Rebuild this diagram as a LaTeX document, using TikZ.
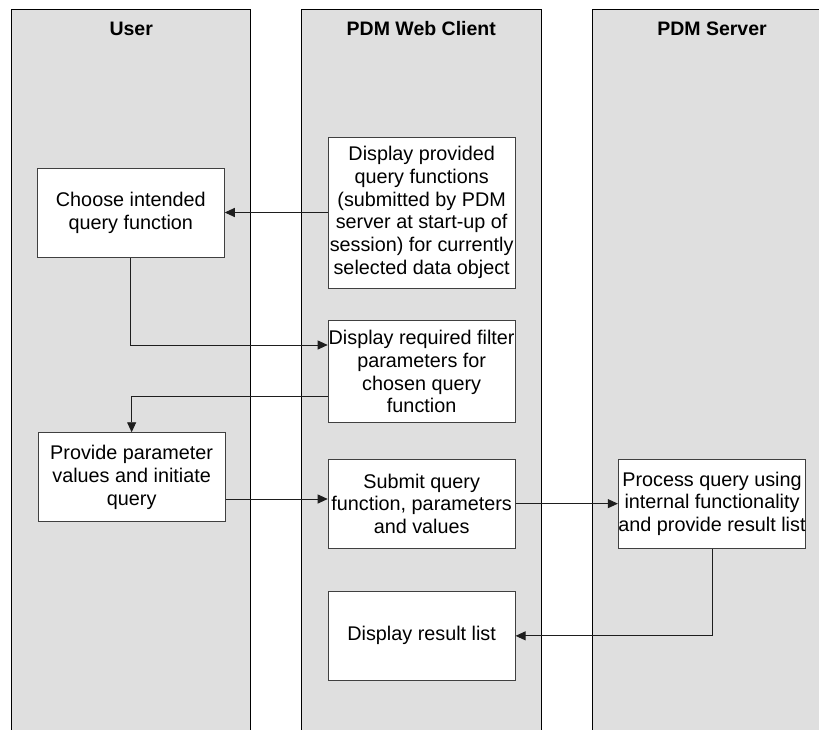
\documentclass[tikz,border=0pt]{standalone}
\usepackage{fontspec}
\setmainfont{Liberation Sans}
\usetikzlibrary{arrows.meta,calc}
\definecolor{lanefill}{RGB}{223,223,223}
\definecolor{boxline}{RGB}{64,64,64}
\definecolor{wireline}{RGB}{30,30,30}
\begin{document}
\begin{tikzpicture}[x=1pt,y=-1pt,
  every node/.style={font=\fontsize{19.8}{22.7}\selectfont},
  lanehead/.style={font=\fontsize{19.5}{22}\selectfont\bfseries},
  lanefr/.style={draw=black,line width=1pt},
  stepbox/.style={draw=boxline,fill=white,line width=0.9pt,inner sep=0pt,
    minimum width=187pt,align=center,anchor=center},
  flow/.style={draw=wireline,line width=0.9pt,
    -{Triangle[length=10pt,width=9pt]}}]
\useasboundingbox (0,0) rectangle (819,730);

% swimlanes (open at the bottom)
\fill[lanefill] (11.7,10) rectangle (250.7,735);
\fill[lanefill] (301.7,10) rectangle (541,735);
\fill[lanefill] (592.3,10) rectangle (832,735);
\draw[lanefr] (11.7,735) -- (11.7,10) -- (250.7,10) -- (250.7,735);
\draw[lanefr] (301.7,735) -- (301.7,10) -- (541,10) -- (541,735);
\draw[lanefr] (592.3,735) -- (592.3,10) -- (832,10) -- (832,735);

\node[lanehead] (huser) at (131.2,29) {User};
\node[lanehead] (hclient) at (421.3,29) {PDM Web Client};
\node[lanehead] (hserver) at (712,29) {PDM Server};

% activity boxes
\node[stepbox,minimum height=151pt] (dispfn) at (421.65,212.5)
  {Display provided\\query functions\\(submitted by PDM\\server at start-up of\\session) for currently\\selected data object};
\node[stepbox,minimum height=89.7pt] (choose) at (130.8,212.85)
  {Choose intended\\query function};
\node[stepbox,minimum height=102pt] (filter) at (421.65,371.7)
  {Display required filter\\parameters for\\chosen query\\function};
\node[stepbox,minimum height=89pt] (provide) at (131.65,477.2)
  {Provide parameter\\values and initiate\\query};
\node[stepbox,minimum height=89.3pt] (submit) at (421.65,503.65)
  {Submit query\\function, parameters\\and values};
\node[stepbox,minimum height=89pt,minimum width=187.4pt] (process) at (712,503.8)
  {Process query using\\internal functionality\\and provide result list};
\node[stepbox,minimum height=88.3pt] (result) at (421.65,635.85)
  {Display result list};

% control flow
\draw[flow] (dispfn.west) -- (dispfn.west -| choose.east);
\draw[flow] (choose.south) |- ([yshift=26.7pt]filter.west);
\draw[flow] ([yshift=-25pt]filter.west) -| (provide.north);
\draw[flow] ([yshift=-21.8pt]provide.east) -- ([yshift=-21.8pt]provide.east -| submit.west);
\draw[flow] (submit.east) -- (submit.east -| process.west);
\draw[flow] (process.south) |- (result.east);
\end{tikzpicture}
\end{document}
